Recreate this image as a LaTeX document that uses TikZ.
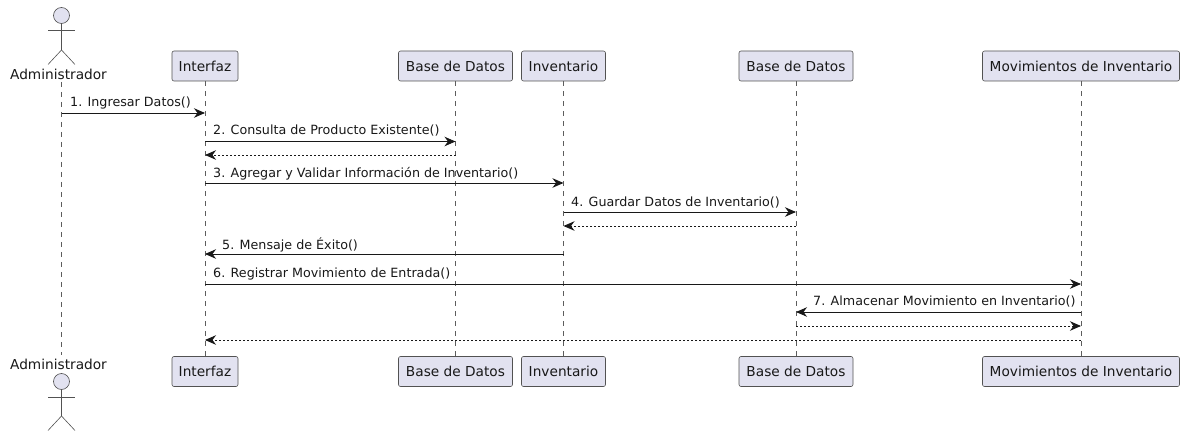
\documentclass[tikz,border=0pt]{standalone}
\usepackage{fontspec}
\setmainfont{DejaVu Sans}
\usepackage{tikz}
\usetikzlibrary{arrows.meta}
\definecolor{partfill}{HTML}{E2E2F0}
\definecolor{partline}{HTML}{181818}
\tikzset{
  part/.style={draw=partline!75, fill=partfill, rounded corners=2pt, line width=0.6pt, minimum height=30pt, inner sep=0pt, font=\fontsize{13.7}{15}\selectfont, text=partline},
  actorlabel/.style={inner sep=0pt, font=\fontsize{13.7}{15}\selectfont, text=partline},
  head/.style={circle, draw=partline!75, fill=partfill, line width=0.6pt, minimum size=16pt, inner sep=0pt},
  limb/.style={draw=partline!75, line width=0.6pt},
  life/.style={draw=partline!70, line width=0.5pt, dash pattern=on 5pt off 5pt},
  call/.style={draw=partline, line width=0.9pt, -{Stealth[length=11pt,width=9.5pt,inset=3.5pt]}},
  back/.style={draw=partline, line width=0.9pt, dash pattern=on 2pt off 2pt, -{Stealth[length=11pt,width=9.5pt,inset=3.5pt]}},
  msg/.style={anchor=west, inner sep=0pt, font=\fontsize{12.7}{14}\selectfont, text=partline}
}
\begin{document}
\begin{tikzpicture}[x=1pt, y=-1pt]
\useasboundingbox (0,0) rectangle (1181,433);

% top row
\node (admT) at (58.5,74) [actorlabel] {Administrador};
\node (intT) at (205,66) [part, minimum width=66pt] {Interfaz};
\node (bd1T) at (455.5,66) [part, minimum width=114pt] {Base de Datos};
\node (invT) at (563.5,66) [part, minimum width=84pt] {Inventario};
\node (bd2T) at (796,66) [part, minimum width=114pt] {Base de Datos};
\node (movT) at (1081,66) [part, minimum width=197pt] {Movimientos de Inventario};

% bottom row
\node (admB) at (58.5,364) [actorlabel] {Administrador};
\node (intB) at (205,371.5) [part, minimum width=66pt] {Interfaz};
\node (bd1B) at (455.5,371.5) [part, minimum width=114pt] {Base de Datos};
\node (invB) at (563.5,371.5) [part, minimum width=84pt] {Inventario};
\node (bd2B) at (796,371.5) [part, minimum width=114pt] {Base de Datos};
\node (movB) at (1081,371.5) [part, minimum width=197pt] {Movimientos de Inventario};

% actors
\node (headT) at (61.5,15.5) [head] {};
\coordinate (hipT) at (61.5,50);
\coordinate (armTa) at (48,30.5);
\coordinate (armTb) at (75,30.5);
\coordinate (legTa) at (48,64.5);
\coordinate (legTb) at (75,64.5);
\draw [limb] (headT) -- (hipT);
\draw [limb] (armTa) -- (armTb);
\draw [limb] (legTa) -- (hipT) -- (legTb);

\node (headB) at (61.5,381.5) [head] {};
\coordinate (hipB) at (61.5,416);
\coordinate (armBa) at (48,397);
\coordinate (armBb) at (75,397);
\coordinate (legBa) at (48,430.5);
\coordinate (legBb) at (75,430.5);
\draw [limb] (headB) -- (hipB);
\draw [limb] (armBa) -- (armBb);
\draw [limb] (legBa) -- (hipB) -- (legBb);

% lifelines
\coordinate (admS) at (61.5,82);
\coordinate (admE) at (61.5,355);
\draw [life] (admS) -- (admE);
\draw [life] (intT.south) -- (intB.north);
\draw [life] (bd1T.south) -- (bd1B.north);
\draw [life] (invT.south) -- (invB.north);
\draw [life] (bd2T.south) -- (bd2B.north);
\draw [life] (movT.south) -- (movB.north);

% messages
\coordinate (a1) at (61.5,113);   \coordinate (b1) at (205,113);
\coordinate (a2) at (205,141.5);  \coordinate (b2) at (455.5,141.5);
\coordinate (a3) at (455.5,155);  \coordinate (b3) at (205,155);
\coordinate (a4) at (205,183);    \coordinate (b4) at (563.5,183);
\coordinate (a5) at (563.5,212);  \coordinate (b5) at (796,212);
\coordinate (a6) at (796,226);    \coordinate (b6) at (563.5,226);
\coordinate (a7) at (563.5,254);  \coordinate (b7) at (205,254);
\coordinate (a8) at (205,284);    \coordinate (b8) at (1081,284);
\coordinate (a9) at (1081,312);   \coordinate (b9) at (796,312);
\coordinate (a10) at (796,326);   \coordinate (b10) at (1081,326);
\coordinate (a11) at (1081,340);  \coordinate (b11) at (205,340);

\draw [call] (a1) -- (b1);
\draw [call] (a2) -- (b2);
\draw [back] (a3) -- (b3);
\draw [call] (a4) -- (b4);
\draw [call] (a5) -- (b5);
\draw [back] (a6) -- (b6);
\draw [call] (a7) -- (b7);
\draw [call] (a8) -- (b8);
\draw [call] (a9) -- (b9);
\draw [back] (a10) -- (b10);
\draw [back] (a11) -- (b11);

\node (m1) at (70,103) [msg] {1. Ingresar Datos()};
\node (m2) at (213,131) [msg] {2. Consulta de Producto Existente()};
\node (m3) at (213,174) [msg] {3. Agregar y Validar Información de Inventario()};
\node (m4) at (571,203) [msg] {4. Guardar Datos de Inventario()};
\node (m5) at (222,245) [msg] {5. Mensaje de Éxito()};
\node (m6) at (213,274) [msg] {6. Registrar Movimiento de Entrada()};
\node (m7) at (813,302) [msg] {7. Almacenar Movimiento en Inventario()};
\end{tikzpicture}
\end{document}
